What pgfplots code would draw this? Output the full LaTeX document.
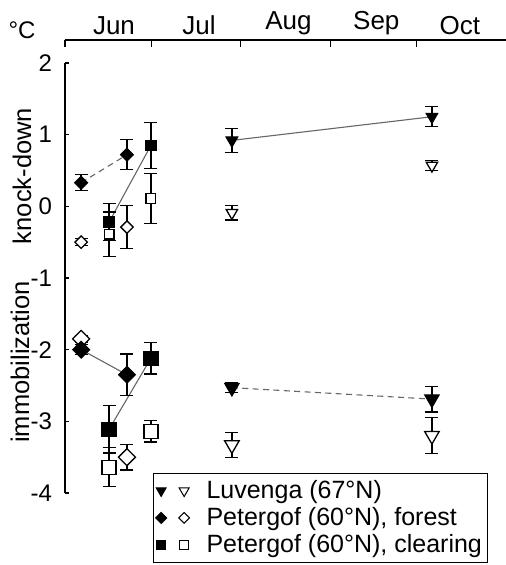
\documentclass[border=0pt]{standalone}
\usepackage{pgfplots}
\pgfplotsset{compat=1.18}
\usepackage{fontspec}
\setmainfont{Liberation Sans}
\pgfplotsset{
  eb/.style={error bars/y dir=both, error bars/y explicit,
    error bars/error mark options={rotate=90, mark size=3.25pt, line width=0.65pt, black},
    error bars/error bar style={line width=0.65pt, black}},
  cl/.style={no markers, forget plot, color=black!60, line width=0.55pt},
  dl/.style={no markers, forget plot, color=black!60, line width=0.55pt, dash pattern=on 3pt off 2.2pt},
}
\begin{document}
\begin{tikzpicture}[x=1pt,y=1pt]
\path[use as bounding box] (0,0) rectangle (253,282.5);
% month axis on top
\begin{axis}[
  at={(32.5pt,251pt)}, anchor=south west,
  width=220.5pt, height=11.5pt, scale only axis,
  xmin=0, xmax=153, ymin=0, ymax=1,
  axis y line=none, axis x line=top,
  x axis line style={-, line width=0.6pt},
  xtick={0,30,61,92,122}, xticklabels={},
  tick align=inside, major tick length=3.6pt,
  tick style={line width=0.6pt, black},
  extra x ticks={17,46.5,77.5,108,137},
  extra x tick labels={Jun,Jul,Aug,Sep,Oct},
  extra x tick style={major tick length=0pt},
  xticklabel style={font=\fontsize{13}{15}\selectfont, yshift=-1pt},
]
\end{axis}
% data axis
\begin{axis}[
  at={(32.5pt,36pt)}, anchor=south west,
  width=220.5pt, height=215pt, scale only axis,
  xmin=0, xmax=153, ymin=-4, ymax=2,
  axis x line=none, axis y line=left,
  y axis line style={-, line width=0.6pt},
  ytick={-4,-3,-2,-1,0,1,2},
  tick align=inside, major tick length=2.2pt,
  tick style={line width=0.6pt, black},
  /pgf/number format/assume math mode=true,
  yticklabel style={font=\fontsize{12}{14}\selectfont, xshift=-3pt},
  clip=false,
  legend style={at={(0.1995,-0.163)}, anchor=south west, draw=black, line width=0.5pt,
    font=\fontsize{12.5}{13.5}\selectfont, inner xsep=1pt, inner ysep=1.5pt,
    row sep=-1pt, legend cell align=left,
    /tikz/every odd column/.append style={column sep=6.5pt}},
]
% ---------- connecting lines ----------
\addplot[dl] coordinates {(5.6,0.33) (21.5,0.72)};
\addplot[cl] coordinates {(15.3,-0.22) (29.8,0.85)};
\addplot[cl] coordinates {(57.9,0.92) (127.3,1.25)};
\addplot[cl] coordinates {(5.6,-2.00) (21.5,-2.35)};
\addplot[cl] coordinates {(15.3,-3.11) (29.8,-2.12)};
\addplot[dl] coordinates {(57.9,-2.53) (127.3,-2.69)};
% ---------- knock-down ----------
% forest (diamonds)
\addplot[only marks, forget plot, eb, mark=square*, mark size=2.3pt, mark options={rotate=45, draw=black, fill=black, line width=0.5pt}] coordinates {(5.6,0.33) +- (0,0.11) (21.5,0.72) +- (0,0.21)};
\addplot[only marks, forget plot, eb, mark=square*, mark size=2.2pt, mark options={rotate=45, draw=black, fill=white, line width=0.65pt}] coordinates {(5.6,-0.50) +- (0,0.05) (21.5,-0.29) +- (0,0.30)};
% clearing (squares)
\addplot[only marks, forget plot, eb, mark=square*, mark size=2.6pt, mark options={draw=black, fill=black, line width=0.5pt}] coordinates {(15.3,-0.22) +- (0,0.26) (29.8,0.85) +- (0,0.32)};
\addplot[only marks, forget plot, eb, mark=square*, mark size=2.4pt, mark options={draw=black, fill=white, line width=0.65pt}] coordinates {(15.3,-0.39) +- (0,0.31) (29.8,0.11) +- (0,0.35)};
% Luvenga (triangles)
\addplot[only marks, forget plot, eb, mark=triangle*, mark size=3.4pt, mark options={rotate=180, draw=black, fill=black, line width=0.5pt}] coordinates {(57.9,0.92) +- (0,0.17) (127.3,1.25) +- (0,0.14)};
\addplot[only marks, forget plot, eb, mark=triangle*, mark size=3.3pt, mark options={rotate=180, draw=black, fill=white, line width=0.65pt}] coordinates {(57.9,-0.09) +- (0,0.10) (127.3,0.57) +- (0,0.07)};
% ---------- immobilization ----------
\addplot[only marks, forget plot, eb, mark=square*, mark size=3.0pt, mark options={rotate=45, draw=black, fill=white, line width=0.65pt}] coordinates {(5.6,-1.85) +- (0,0.05) (21.5,-3.50) +- (0,0.18)};
\addplot[only marks, forget plot, eb, mark=square*, mark size=3.0pt, mark options={rotate=45, draw=black, fill=black, line width=0.5pt}] coordinates {(5.6,-2.00) +- (0,0.07) (21.5,-2.35) +- (0,0.29)};
\addplot[only marks, forget plot, eb, mark=square*, mark size=3.6pt, mark options={draw=black, fill=black, line width=0.5pt}] coordinates {(15.3,-3.11) +- (0,0.33) (29.8,-2.12) +- (0,0.22)};
\addplot[only marks, forget plot, eb, mark=square*, mark size=3.5pt, mark options={draw=black, fill=white, line width=0.65pt}] coordinates {(15.3,-3.64) +- (0,0.27) (29.8,-3.14) +- (0,0.15)};
\addplot[only marks, forget plot, eb, mark=triangle*, mark size=4.2pt, mark options={rotate=180, draw=black, fill=black, line width=0.5pt}] coordinates {(57.9,-2.53) +- (0,0.07) (127.3,-2.69) +- (0,0.18)};
\addplot[only marks, forget plot, eb, mark=triangle*, mark size=4.2pt, mark options={rotate=180, draw=black, fill=white, line width=0.65pt}] coordinates {(57.9,-3.33) +- (0,0.17) (127.3,-3.20) +- (0,0.25)};
% ---------- legend ----------
\addlegendimage{legend image code/.code={
  \path[draw=black,fill=black,line width=0.4pt] plot[only marks, mark=triangle*, mark size=2.9pt, mark options={rotate=180}] coordinates {(0pt,0pt)};
  \path[draw=black,fill=white,line width=0.5pt] plot[only marks, mark=triangle*, mark size=2.9pt, mark options={rotate=180}] coordinates {(11.5pt,0pt)};
}}
\addlegendentry{Luvenga (67°N)}
\addlegendimage{legend image code/.code={
  \path[draw=black,fill=black,line width=0.4pt] plot[only marks, mark=square*, mark size=2.0pt, mark options={rotate=45}] coordinates {(0pt,0pt)};
  \path[draw=black,fill=white,line width=0.5pt] plot[only marks, mark=square*, mark size=1.9pt, mark options={rotate=45}] coordinates {(11.5pt,0pt)};
}}
\addlegendentry{Petergof (60°N), forest}
\addlegendimage{legend image code/.code={
  \path[draw=black,fill=black,line width=0.4pt] plot[only marks, mark=square*, mark size=2.3pt] coordinates {(0pt,0pt)};
  \path[draw=black,fill=white,line width=0.5pt] plot[only marks, mark=square*, mark size=2.1pt] coordinates {(11.5pt,0pt)};
}}
\addlegendentry{Petergof (60°N), clearing}
\end{axis}
\node[font=\fontsize{12}{13}\selectfont] at (11,267.5) {°C};
\node[rotate=90, font=\fontsize{12.75}{14}\selectfont] at (11,194.5) {knock-down};
\node[rotate=90, font=\fontsize{12.75}{14}\selectfont] at (10,101.5) {immobilization};
\end{tikzpicture}
\end{document}
